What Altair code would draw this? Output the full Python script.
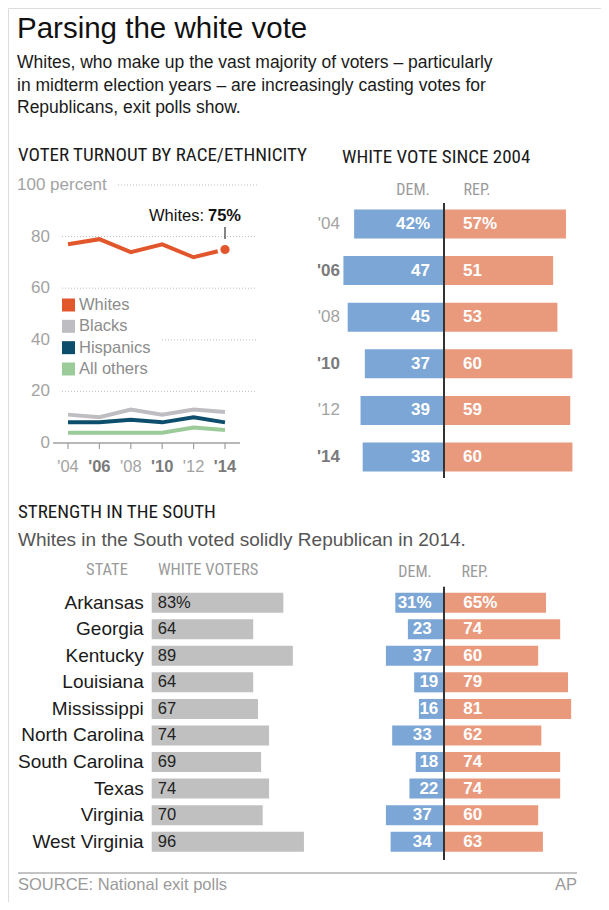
import altair as alt
import pandas as pd

# ------------------------------------------------------------------ data
title_text = "Parsing the white vote"
subtitle_lines = [
    "Whites, who make up the vast majority of voters \u2013 particularly",
    "in midterm election years \u2013 are increasingly casting votes for",
    "Republicans, exit polls show.",
]

years = [2004, 2006, 2008, 2010, 2012, 2014]
year_labels = ["'04", "'06", "'08", "'10", "'12", "'14"]
midterm = [False, True, False, True, False, True]

groups = ["Whites", "Blacks", "Hispanics", "All others"]
group_colors = ["#e2562c", "#bebec2", "#0e4e6d", "#9ccb9a"]
turnout_whites = [77, 79, 74, 77, 72, 75]
turnout_blacks = [11, 10, 13, 11, 13, 12]
turnout_hispanics = [8, 8, 9, 8, 10, 8]
turnout_others = [4, 4, 4, 4, 6, 5]

y_ticks = [0, 20, 40, 60, 80]
y_tick_labels = ["0", "20", "40", "60", "80"]
y_top_tick = 100
y_top_label = "100 percent"

white_dem = [42, 47, 45, 37, 39, 38]
white_rep = [57, 51, 53, 60, 59, 60]

states = ["Arkansas", "Georgia", "Kentucky", "Louisiana", "Mississippi",
          "North Carolina", "South Carolina", "Texas", "Virginia", "West Virginia"]
white_share = [83, 64, 89, 64, 67, 74, 69, 74, 70, 96]
south_dem = [31, 23, 37, 19, 16, 33, 18, 22, 37, 34]
south_rep = [65, 74, 60, 79, 81, 62, 74, 74, 60, 63]

# ------------------------------------------------------------------ styles
SANS = "Liberation Sans, Arial, Helvetica, sans-serif"
NARROW = "Liberation Sans Narrow, Arial Narrow, Roboto Condensed, Liberation Sans, sans-serif"
BLUE = "#7ba6d6"
RED = "#e99a7d"
GRAYBAR = "#c0c0c0"
LABEL_GRAY = "#9a9a9a"
DARK = "#1a1a1a"

# ------------------------------------------------------------------ tables
def pct(vals):
    return [f"{v}%" if i == 0 else str(v) for i, v in enumerate(vals)]

turn_rows = []
for g, vals in zip(groups, [turnout_whites, turnout_blacks, turnout_hispanics, turnout_others]):
    for y, v in zip(years, vals):
        turn_rows.append({"year": y, "group": g, "value": v})
turn_df = pd.DataFrame(turn_rows)
last_df = pd.DataFrame({"year": [years[-1]], "value": [turnout_whites[-1]],
                        "t1": ["Whites:"], "t2": [f"{turnout_whites[-1]}%"]})
year_df = pd.DataFrame({"year": years, "label": year_labels, "midterm": midterm})
ytick_df = pd.DataFrame({"v": y_ticks, "label": y_tick_labels})
legend_df = pd.DataFrame({"group": groups})

wv_df = pd.DataFrame({"label": year_labels, "midterm": midterm,
                      "dem": white_dem, "rep": white_rep,
                      "dem_neg": [-d for d in white_dem], "zero": 0,
                      "dem_t": pct(white_dem), "rep_t": pct(white_rep)})
south_df = pd.DataFrame({"state": states, "share": white_share, "zero": 0,
                         "share_t": pct(white_share),
                         "dem": south_dem, "rep": south_rep,
                         "dem_neg": [-d for d in south_dem],
                         "dem_t": pct(south_dem), "rep_t": pct(south_rep)})
zero_df = pd.DataFrame({"zero": [0]})
one = pd.DataFrame({"a": [0]})

# ------------------------------------------------------------------ scales (pixel ranges place each panel)
X_YEAR = alt.Scale(domain=[2004, 2014], range=[60, 217], nice=False, zero=False)
Y_PCT = alt.Scale(domain=[0, 100], range=[435, 177], nice=False)
COLOR = alt.Scale(domain=groups, range=group_colors)
Y_LEG = alt.Scale(type="point", domain=groups, range=[297, 361], padding=0)

X_DIV1 = alt.Scale(domain=[-50, 70], range=[329, 585.8], nice=False, zero=False)
Y_BAND1 = alt.Scale(type="band", domain=year_labels, range=[192.7, 472.3],
                    paddingInner=0.378, paddingOuter=0.189)

Y_BAND2 = alt.Scale(type="band", domain=states, range=[581.4, 847],
                    paddingInner=0.247, paddingOuter=0.1235)
X_SHARE = alt.Scale(domain=[0, 100], range=[143.7, 302.3], nice=False)
X_DIV2 = alt.Scale(domain=[-50, 100], range=[357.5, 593], nice=False, zero=False)

Y_SUB = alt.Scale(type="point", domain=[0, 1, 2], range=[55, 100], padding=0)


def txt(text, x, y, size, color=DARK, font=SANS, align="left", weight="normal", baseline="middle"):
    return alt.Chart(one).mark_text(text=text, font=font, fontSize=size, color=color,
                                    align=align, fontWeight=weight, baseline=baseline).encode(
        x=alt.value(x), y=alt.value(y))


layers = []

# ---- header
layers.append(txt(title_text, 9, 30, 29.5, color="#111", baseline="alphabetic"))
sub_df = pd.DataFrame({"i": [0, 1, 2], "t": subtitle_lines})
layers.append(alt.Chart(sub_df).mark_text(font=SANS, fontSize=17.5, color=DARK, align="left").encode(
    x=alt.value(9), y=alt.Y("i:O", scale=Y_SUB, axis=None), text="t:N"))

# ---- section titles
layers.append(txt("VOTER TURNOUT BY RACE/ETHNICITY", 10, 147, 19, font=NARROW))
layers.append(txt("WHITE VOTE SINCE 2004", 334, 149, 19, font=NARROW))

# ---- line chart: grid
grid_common = dict(color="#bdbdbd", strokeDash=[1, 2], strokeWidth=1)
layers.append(alt.Chart(ytick_df).transform_filter("datum.v == 20 || datum.v == 60 || datum.v == 80")
              .mark_rule(**grid_common).encode(
    y=alt.Y("v:Q", scale=Y_PCT, axis=None), x=alt.value(54), x2=alt.value(249)))
layers.append(alt.Chart(ytick_df).transform_filter("datum.v == 40")
              .mark_rule(**grid_common).encode(
    y=alt.Y("v:Q", scale=Y_PCT, axis=None), x=alt.value(154), x2=alt.value(249)))
layers.append(alt.Chart(pd.DataFrame({"v": [y_top_tick]})).mark_rule(**grid_common).encode(
    y=alt.Y("v:Q", scale=Y_PCT, axis=None), x=alt.value(110), x2=alt.value(249)))

# y labels
layers.append(alt.Chart(ytick_df).mark_text(font=SANS, fontSize=17, color="#a3a3a3", align="right").encode(
    y=alt.Y("v:Q", scale=Y_PCT, axis=None), x=alt.value(42), text="label:N"))
layers.append(alt.Chart(pd.DataFrame({"v": [y_top_tick], "label": [y_top_label]}))
              .mark_text(font=SANS, fontSize=17, color="#a3a3a3", align="left").encode(
    y=alt.Y("v:Q", scale=Y_PCT, axis=None), x=alt.value(9), text="label:N"))

# baseline + ticks
layers.append(alt.Chart(zero_df).mark_rule(color="#a0a0a0", strokeWidth=1.5).encode(
    y=alt.Y("zero:Q", scale=Y_PCT, axis=None), x=alt.value(45), x2=alt.value(232)))
layers.append(alt.Chart(year_df).mark_rule(color="#a0a0a0", strokeWidth=1.2).encode(
    x=alt.X("year:Q", scale=X_YEAR, axis=None), y=alt.value(435), y2=alt.value(441)))
layers.append(alt.Chart(year_df).transform_filter("!datum.midterm").mark_text(
    font=SANS, fontSize=16.5, color="#a3a3a3").encode(
    x=alt.X("year:Q", scale=X_YEAR, axis=None), y=alt.value(459), text="label:N"))
layers.append(alt.Chart(year_df).transform_filter("datum.midterm").mark_text(
    font=SANS, fontSize=16.5, color="#7a7a7a", fontWeight="bold").encode(
    x=alt.X("year:Q", scale=X_YEAR, axis=None), y=alt.value(459), text="label:N"))

# lines
layers.append(alt.Chart(turn_df).mark_line(strokeWidth=4).encode(
    x=alt.X("year:Q", scale=X_YEAR, axis=None),
    y=alt.Y("value:Q", scale=Y_PCT, axis=None),
    color=alt.Color("group:N", scale=COLOR, legend=None)))
layers.append(alt.Chart(last_df).mark_circle(size=150, opacity=1, color=group_colors[0],
                                             stroke="white", strokeWidth=3).encode(
    x=alt.X("year:Q", scale=X_YEAR, axis=None), y=alt.Y("value:Q", scale=Y_PCT, axis=None)))
# annotation
layers.append(alt.Chart(last_df).mark_rule(color="#333", strokeWidth=1.2).encode(
    x=alt.X("year:Q", scale=X_YEAR, axis=None), y=alt.value(219), y2=alt.value(231)))
layers.append(alt.Chart(last_df).mark_text(font=SANS, fontSize=16.5, color="#111", align="right", dx=-21).encode(
    x=alt.X("year:Q", scale=X_YEAR, axis=None), y=alt.value(208), text="t1:N"))
layers.append(alt.Chart(last_df).mark_text(font=SANS, fontSize=16.5, color="#111", align="left",
                                           fontWeight="bold", dx=-17).encode(
    x=alt.X("year:Q", scale=X_YEAR, axis=None), y=alt.value(208), text="t2:N"))

# legend
layers.append(alt.Chart(legend_df).mark_square(size=169, opacity=1).encode(
    x=alt.value(60.5), y=alt.Y("group:N", scale=Y_LEG, axis=None),
    color=alt.Color("group:N", scale=COLOR, legend=None)))
layers.append(alt.Chart(legend_df).mark_text(font=SANS, fontSize=16.5, color="#8c8c8c", align="left").encode(
    x=alt.value(71), y=alt.Y("group:N", scale=Y_LEG, axis=None), text="group:N"))

# ---- white vote since 2004
layers.append(txt("DEM.", 405, 182, 16, color=LABEL_GRAY, font=NARROW, align="center"))
layers.append(txt("REP.", 469, 182, 16, color=LABEL_GRAY, font=NARROW, align="center"))
layers.append(alt.Chart(wv_df).mark_bar(color=BLUE).encode(
    x=alt.X("dem_neg:Q", scale=X_DIV1, axis=None), x2="zero:Q",
    y=alt.Y("label:N", scale=Y_BAND1, axis=None)))
layers.append(alt.Chart(wv_df).mark_bar(color=RED).encode(
    x=alt.X("zero:Q", scale=X_DIV1, axis=None), x2="rep:Q",
    y=alt.Y("label:N", scale=Y_BAND1, axis=None)))
layers.append(alt.Chart(wv_df).mark_text(font=SANS, fontSize=17, fontWeight="bold", color="white",
                                         align="right", dx=-14).encode(
    x=alt.X("zero:Q", scale=X_DIV1, axis=None), y=alt.Y("label:N", scale=Y_BAND1, axis=None),
    text="dem_t:N"))
layers.append(alt.Chart(wv_df).mark_text(font=SANS, fontSize=17, fontWeight="bold", color="white",
                                         align="left", dx=19).encode(
    x=alt.X("zero:Q", scale=X_DIV1, axis=None), y=alt.Y("label:N", scale=Y_BAND1, axis=None),
    text="rep_t:N"))
layers.append(alt.Chart(zero_df).mark_rule(color="#333", strokeWidth=2).encode(
    x=alt.X("zero:Q", scale=X_DIV1, axis=None), y=alt.value(195), y2=alt.value(470)))
layers.append(alt.Chart(wv_df).transform_filter("!datum.midterm").mark_text(
    font=SANS, fontSize=17, color="#a3a3a3", align="right").encode(
    x=alt.value(332), y=alt.Y("label:N", scale=Y_BAND1, axis=None), text="label:N"))
layers.append(alt.Chart(wv_df).transform_filter("datum.midterm").mark_text(
    font=SANS, fontSize=17, color="#7a7a7a", align="right", fontWeight="bold").encode(
    x=alt.value(332), y=alt.Y("label:N", scale=Y_BAND1, axis=None), text="label:N"))

# ---- strength in the south
layers.append(txt("STRENGTH IN THE SOUTH", 10, 504, 19, font=NARROW))
layers.append(txt("Whites in the South voted solidly Republican in 2014.", 10, 532, 19, color="#555"))
layers.append(txt("STATE", 99, 562, 16.5, color=LABEL_GRAY, font=NARROW, align="center"))
layers.append(txt("WHITE VOTERS", 150, 562, 16.5, color=LABEL_GRAY, font=NARROW))
layers.append(txt("DEM.", 407, 564, 16, color=LABEL_GRAY, font=NARROW, align="center"))
layers.append(txt("REP.", 467, 564, 16, color=LABEL_GRAY, font=NARROW, align="center"))

layers.append(alt.Chart(south_df).mark_bar(color=GRAYBAR).encode(
    x=alt.X("zero:Q", scale=X_SHARE, axis=None), x2="share:Q",
    y=alt.Y("state:N", scale=Y_BAND2, axis=None)))
layers.append(alt.Chart(south_df).mark_text(font=SANS, fontSize=16.5, color="#222", align="left", dx=6).encode(
    x=alt.X("zero:Q", scale=X_SHARE, axis=None), y=alt.Y("state:N", scale=Y_BAND2, axis=None),
    text="share_t:N"))
layers.append(alt.Chart(south_df).mark_text(font=SANS, fontSize=19, color=DARK, align="right", dx=-8).encode(
    x=alt.X("zero:Q", scale=X_SHARE, axis=None), y=alt.Y("state:N", scale=Y_BAND2, axis=None),
    text="state:N"))

layers.append(alt.Chart(south_df).mark_bar(color=BLUE).encode(
    x=alt.X("dem_neg:Q", scale=X_DIV2, axis=None), x2="zero:Q",
    y=alt.Y("state:N", scale=Y_BAND2, axis=None)))
layers.append(alt.Chart(south_df).mark_bar(color=RED).encode(
    x=alt.X("zero:Q", scale=X_DIV2, axis=None), x2="rep:Q",
    y=alt.Y("state:N", scale=Y_BAND2, axis=None)))
layers.append(alt.Chart(south_df).transform_filter("datum.dem > 22").mark_text(
    font=SANS, fontSize=17, fontWeight="bold", color="white", align="right", dx=-12.3).encode(
    x=alt.X("zero:Q", scale=X_DIV2, axis=None), y=alt.Y("state:N", scale=Y_BAND2, axis=None),
    text="dem_t:N"))
layers.append(alt.Chart(south_df).transform_filter("datum.dem <= 22").mark_text(
    font=SANS, fontSize=17, fontWeight="bold", color="white", align="right", dx=-5.7).encode(
    x=alt.X("zero:Q", scale=X_DIV2, axis=None), y=alt.Y("state:N", scale=Y_BAND2, axis=None),
    text="dem_t:N"))
layers.append(alt.Chart(south_df).mark_text(
    font=SANS, fontSize=17, fontWeight="bold", color="white", align="left", dx=19.3).encode(
    x=alt.X("zero:Q", scale=X_DIV2, axis=None), y=alt.Y("state:N", scale=Y_BAND2, axis=None),
    text="rep_t:N"))
layers.append(alt.Chart(zero_df).mark_rule(color="#333", strokeWidth=2).encode(
    x=alt.X("zero:Q", scale=X_DIV2, axis=None), y=alt.value(578.7), y2=alt.value(852)))

# ---- footer
layers.append(alt.Chart(one).mark_rule(color="#b0b0b0", strokeWidth=1.5).encode(
    x=alt.value(10), x2=alt.value(569), y=alt.value(865)))
layers.append(txt("SOURCE: National exit polls", 10, 877, 16.5, color="#9a9a9a"))
layers.append(txt("AP", 569, 877, 16.5, color="#9a9a9a", align="right"))

chart = alt.layer(*layers).resolve_scale(
    x="independent", y="independent", color="independent"
).properties(
    width=593, height=894, autosize=alt.AutoSizeParams(type="none"), padding=0
).configure_view(stroke=None).configure(background="white")

chart.save("out.html", embed_options={"renderer": "svg", "actions": False})
